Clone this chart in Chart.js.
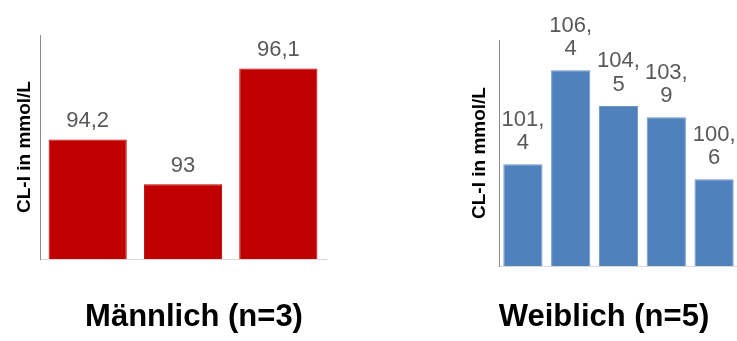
<!DOCTYPE html>
<html>
<head>
<meta charset="utf-8">
<script src="https://cdn.jsdelivr.net/npm/chart.js@4/dist/chart.umd.min.js"></script>
<style>
    html, body { margin: 0; padding: 0; background: #fff; overflow: hidden; }
    #wrap { position: relative; width: 737px; height: 341px; overflow: hidden; }
    canvas { position: absolute; top: 0; }
    #male { left: 0; }
    #female { left: 466px; }
</style>
</head>
<body>
<div id="wrap">
    <canvas id="male" width="388" height="341"></canvas>
    <canvas id="female" width="276" height="341"></canvas>
</div>
<script>
// Werte
const maleLabels = ['1', '2', '3'];
const maleValues = [94.2, 93, 96.1];
const femaleLabels = ['1', '2', '3', '4', '5'];
const femaleValues = [101.4, 106.4, 104.5, 103.9, 100.6];
const maleAxis = [91, 97];
const femaleAxis = [96, 108];
const yTitle = 'CL-I in mmol/L';

const FONT = "'Liberation Sans', Arial, sans-serif";

// Datenbeschriftung über den Balken (Komma als Dezimaltrenner)
const valueLabels = {
    id: 'valueLabels',
    afterDatasetsDraw(chart, args, opts) {
        const ctx = chart.ctx;
        const meta = chart.getDatasetMeta(0);
        const values = chart.data.datasets[0].data;
        ctx.save();
        ctx.font = '22px ' + FONT;
        ctx.fillStyle = '#595959';
        ctx.textAlign = 'center';
        ctx.textBaseline = 'alphabetic';
        meta.data.forEach((bar, i) => {
            const txt = String(values[i]).replace('.', ',');
            let lines = [txt];
            if (opts.split && txt.includes(',')) {
                const parts = txt.split(',');
                lines = [parts[0] + ',', parts[1]];
            }
            lines.forEach((line, j) => {
                const y = bar.y - opts.gap - (lines.length - 1 - j) * opts.lineStep;
                ctx.fillText(line, bar.x, y);
            });
        });
        ctx.restore();
    }
};

function makeChart(el, labels, values, range, color, border, cfg) {
    return new Chart(el, {
        type: 'bar',
        data: {
            labels: labels,
            datasets: [{
                data: values,
                backgroundColor: color,
                borderColor: border,
                borderWidth: 1,
                barPercentage: 0.82,
                categoryPercentage: 1
            }]
        },
        options: {
            responsive: false,
            animation: false,
            layout: { padding: { top: cfg.top, right: 0, left: 0, bottom: 0 } },
            scales: {
                x: {
                    grid: { display: false, drawTicks: false },
                    ticks: { display: false },
                    border: { display: true, color: '#d9d9d9', width: 1 },
                    afterFit: s => { s.height = 0; }
                },
                y: {
                    min: range[0],
                    max: range[1],
                    grid: { display: false, drawTicks: false },
                    ticks: { display: false },
                    border: { display: true, color: '#8c8c8c', width: 1 },
                    title: {
                        display: true,
                        text: yTitle,
                        color: '#000',
                        font: { family: FONT, size: 19, weight: 'bold' },
                        padding: { top: cfg.yTitlePad, bottom: 0 }
                    },
                    afterFit: s => { s.width = cfg.axisWidth; }
                },
                // leere Achse rechts, nur als Platzhalter
                spacer: {
                    type: 'linear',
                    position: 'right',
                    grid: { display: false, drawTicks: false },
                    ticks: { display: false },
                    border: { display: false },
                    afterFit: s => { s.width = cfg.right; }
                }
            },
            plugins: {
                legend: { display: false },
                tooltip: { enabled: false },
                title: {
                    display: true,
                    position: 'bottom',
                    text: cfg.title,
                    color: '#000',
                    font: { family: FONT, size: 31, weight: 'bold' },
                    padding: { top: cfg.titleTop, bottom: 5 }
                },
                valueLabels: cfg.labels
            }
        },
        plugins: [valueLabels]
    });
}

makeChart(document.getElementById('male'), maleLabels, maleValues, maleAxis, '#c00000', '#c00000', {
    title: 'Männlich (n=3)',
    top: 35, right: 62, axisWidth: 40, yTitlePad: 13.6, titleTop: 39.8,
    labels: { split: false, gap: 12.5, lineStep: 24 }
});

makeChart(document.getElementById('female'), femaleLabels, femaleValues, femaleAxis, '#4f81bd', '#6f96c8', {
    title: 'Weiblich (n=5)',
    top: 40, right: 4, axisWidth: 33, yTitlePad: 2.6, titleTop: 32.8,
    labels: { split: true, gap: 15, lineStep: 23.5 }
});
</script>
</body>
</html>
